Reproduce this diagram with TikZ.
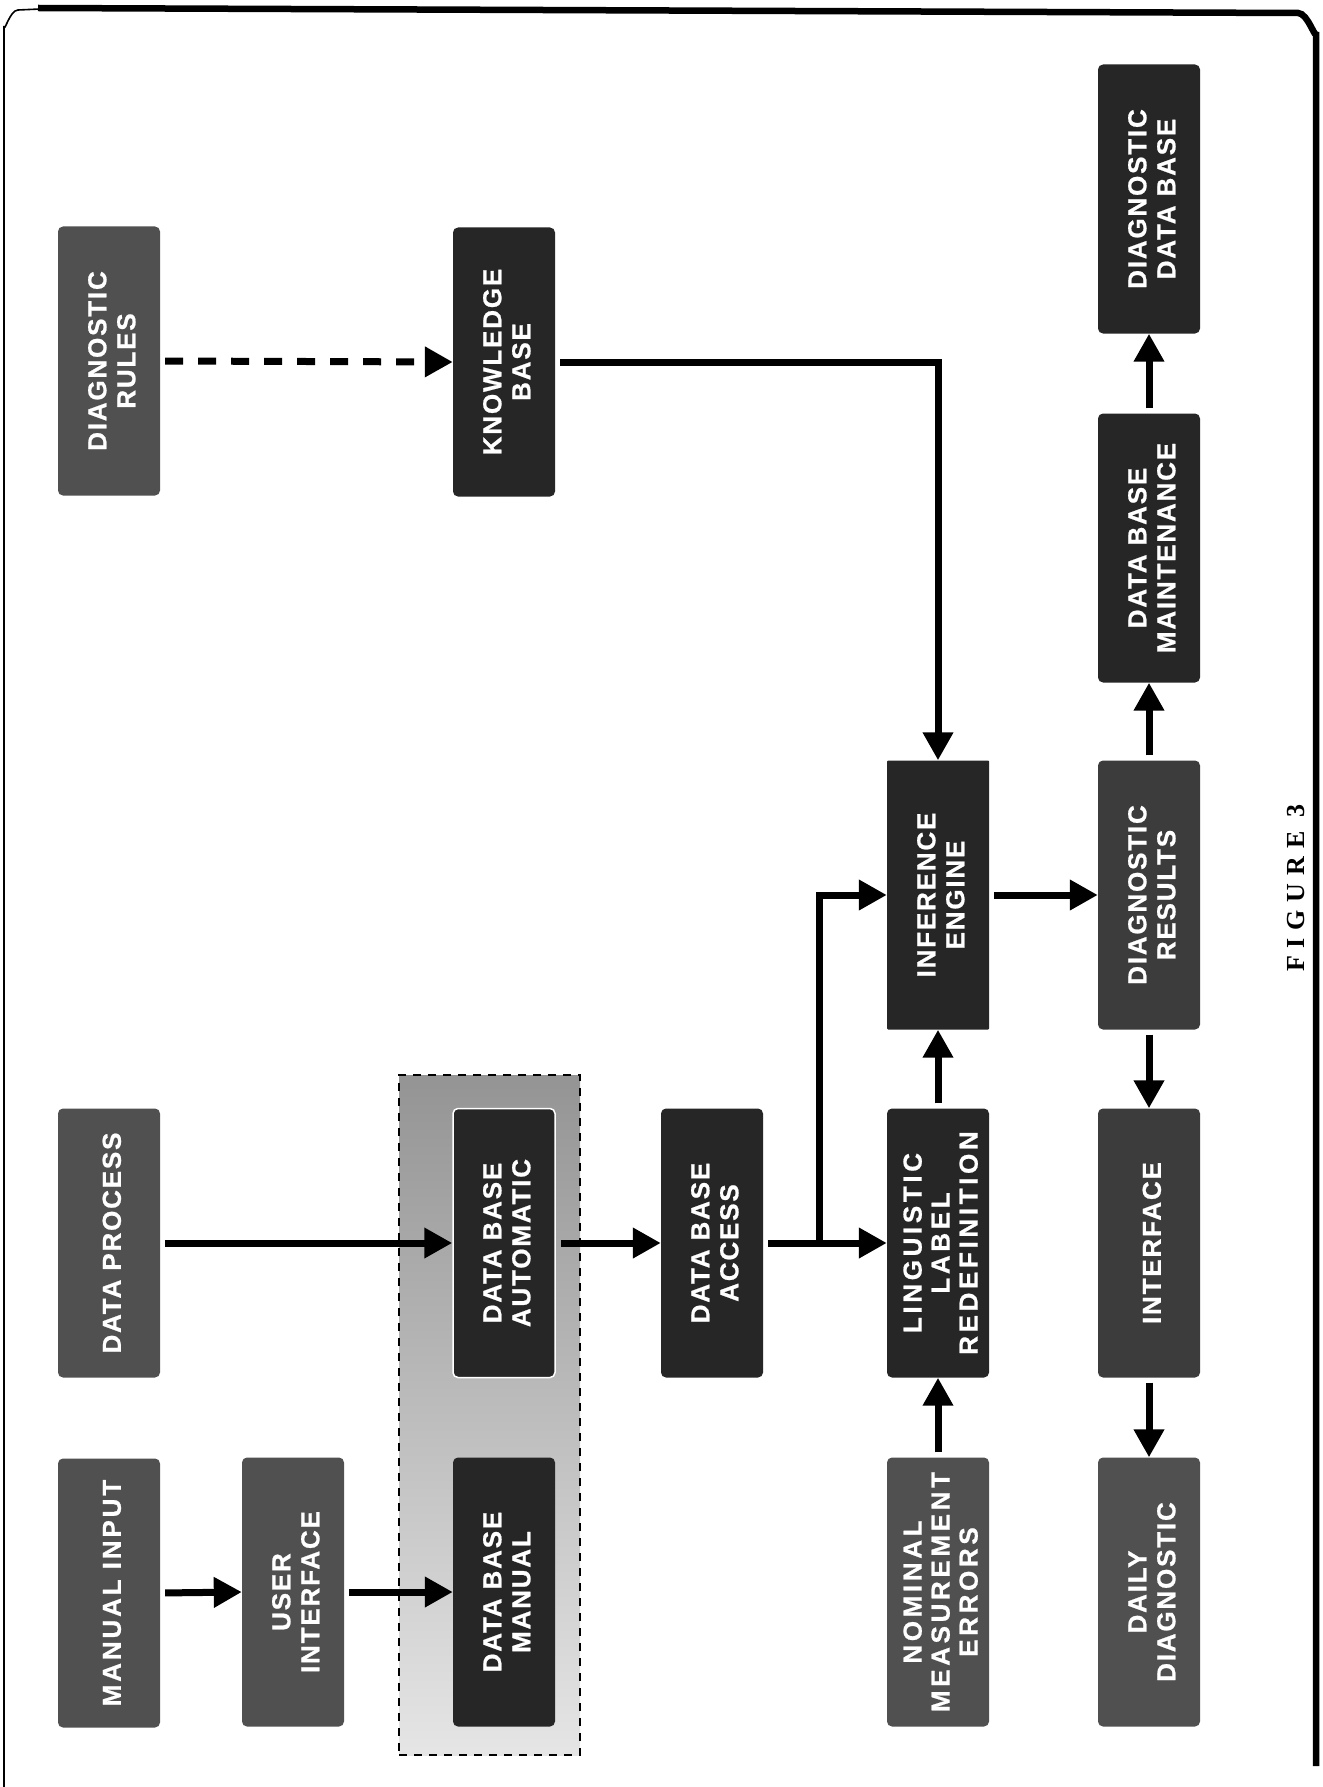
\documentclass[tikz,border=0pt]{standalone}
\usepackage{graphicx}
\usepackage{fontspec}
\usetikzlibrary{arrows.meta,calc}
\newfontfamily\boxfont{Liberation Sans}
\newfontfamily\figfont{Liberation Serif}
\definecolor{boxlight}{HTML}{505050}
\definecolor{boxmid}{HTML}{3C3C3C}
\definecolor{boxdark}{HTML}{262626}
\newcommand{\bx}[3][7]{\rotatebox{90}{\raisebox{-6pt}[\height][\depth]{\boxfont\bfseries\addfontfeatures{LetterSpace=#1,FakeBold=0.8}\fontsize{26}{#2}\selectfont\begin{tabular}{@{}c@{}}#3\end{tabular}}}}
\tikzset{
  bxs/.style={rectangle, rounded corners=5pt, minimum width=102pt, minimum height=269pt, inner sep=0pt, text=white},
  lightbox/.style={bxs, fill=boxlight},
  midbox/.style={bxs, fill=boxmid},
  darkbox/.style={bxs, fill=boxdark},
  arr/.style={line width=7pt, -{Triangle[length=28pt,width=29pt]}, shorten <=5pt},
  dasharr/.style={arr, dash pattern=on 18pt off 15pt},
  grpbox/.style={rectangle, draw=black, line width=2.2pt, dash pattern=on 8pt off 7pt, top color=black!42, bottom color=black!10, minimum width=181pt, minimum height=680pt, inner sep=0pt},
  frame/.style={line width=6.5pt},
  thinframe/.style={line width=1.6pt},
}
\begin{document}
\begin{tikzpicture}[x=1pt,y=-1pt]
\useasboundingbox (0,0) rectangle (1322,1787);
\fill[white] (0,0) rectangle (1322,1787);
% frame
\draw[thinframe] (4,1787) -- (4,26) to[out=-90,in=180] (18,10) -- (40,9);
\draw[frame] (38,8) -- (1298,13) to[out=0,in=-90] (1316,32) -- (1316,1766);
% group of data bases
\node[grpbox] (grp) at (489.5,1415) {};
% boxes
\node[lightbox] (dr) at (109,361) {\bx{29}{DIAGNOSTIC\\RULES}};
\node[lightbox] (dp) at (109,1243) {\bx{29}{DATA PROCESS}};
\node[lightbox] (mi) at (109,1593) {\bx[11]{29}{MANUAL INPUT}};
\node[lightbox] (ui) at (293,1592) {\bx{29}{USER\\INTERFACE}};
\node[darkbox] (kb) at (504,362) {\bx{29}{KNOWLEDGE\\BASE}};
\node[darkbox, draw=white, line width=1.5pt] (dba) at (504,1243) {\bx{29}{DATA BASE\\AUTOMATIC}};
\node[darkbox] (dbm) at (504,1592) {\bx{29}{DATA BASE\\MANUAL}};
\node[darkbox] (acc) at (712,1243) {\bx{29}{DATA BASE\\ACCESS}};
\node[darkbox, rounded corners=1pt] (ie) at (938,895) {\bx{29}{INFERENCE\\ENGINE}};
\node[darkbox] (ling) at (938,1243) {\bx[14]{28}{LINGUISTIC\\LABEL\\REDEFINITION}};
\node[lightbox] (nom) at (938,1592) {\bx[14]{28}{NOMINAL\\MEASUREMENT\\ERRORS}};
\node[darkbox] (ddb) at (1149,199) {\bx{29}{DIAGNOSTIC\\DATA BASE}};
\node[darkbox] (dbmt) at (1149,548) {\bx{29}{DATA BASE\\MAINTENANCE}};
\node[midbox] (dres) at (1149,895) {\bx{29}{DIAGNOSTIC\\RESULTS}};
\node[midbox] (intf) at (1149,1243) {\bx{29}{INTERFACE}};
\node[lightbox] (daily) at (1149,1592) {\bx{29}{DAILY\\DIAGNOSTIC}};
% caption
\node[rotate=90, font=\figfont\bfseries\addfontfeatures{LetterSpace=30}\fontsize{26}{28}\selectfont] (fig) at (1296,888) {FIGURE 3};
% connectors
\draw[dasharr] (dr.east) -- (kb.west);
\draw[arr] (kb.east) -| (ie.north);
\draw[arr] (dp.east) -- (dba.west);
\draw[arr] (mi.east) -- (ui.west);
\draw[arr] (ui.east) -- (dbm.west);
\draw[arr] (dba.east) -- (acc.west);
\draw[arr] (acc.east) -- (ling.west);
\coordinate (br) at (819,1243);
\draw[arr, shorten <=0pt] (br) |- (ie.west);
\draw[arr] (ling.north) -- (ie.south);
\draw[arr] (nom.north) -- (ling.south);
\draw[arr] (ie.east) -- (dres.west);
\draw[arr] (dres.north) -- (dbmt.south);
\draw[arr] (dbmt.north) -- (ddb.south);
\draw[arr] (dres.south) -- (intf.north);
\draw[arr] (intf.south) -- (daily.north);
\end{tikzpicture}
\end{document}
